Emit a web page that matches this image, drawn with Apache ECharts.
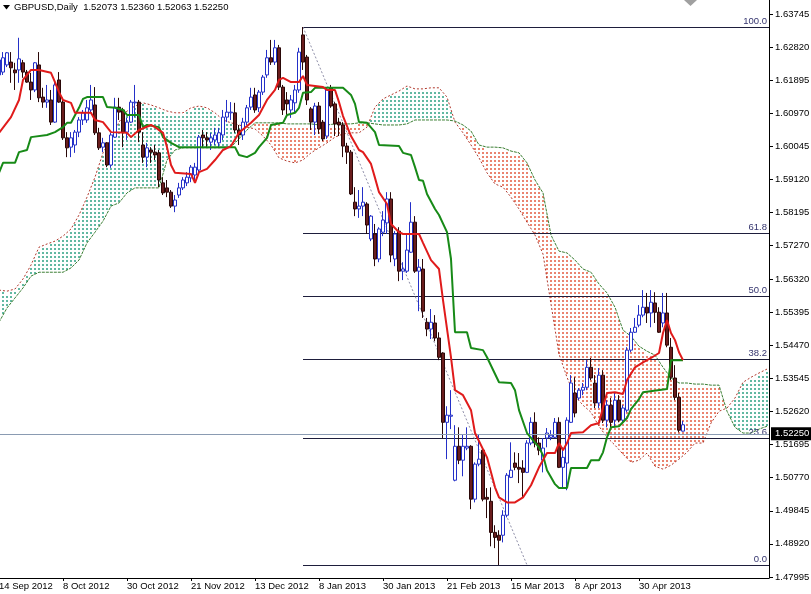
<!DOCTYPE html>
<html><head><meta charset="utf-8">
<script src="https://cdn.jsdelivr.net/npm/echarts@6/dist/echarts.min.js"></script>
<style>html,body{margin:0;padding:0;background:#fff}#c{width:811px;height:594px}</style>
</head><body><div id="c"></div>
<script>
// ---------- DATA ----------
const chartTitle = 'GBPUSD,Daily  1.52073 1.52360 1.52063 1.52250';
const xTickLabels = ['14 Sep 2012','8 Oct 2012','30 Oct 2012','21 Nov 2012','13 Dec 2012','8 Jan 2013','30 Jan 2013','21 Feb 2013','15 Mar 2013','8 Apr 2013','30 Apr 2013'];
const barsPerTick = 16;
const totalSlots = 193; // bars + cloud shifted forward
const priceTicks = [1.47995,1.48920,1.49845,1.50770,1.51695,1.52620,1.53545,1.54470,1.55395,1.56320,1.57270,1.58195,1.59120,1.60045,1.60970,1.61895,1.62820,1.63745];

const opens = [1.6204,1.6212,1.6232,1.6240,1.6218,1.6218,1.6238,1.6212,1.6184,1.6162,
1.6232,1.6142,1.6128,1.6134,1.6072,1.6190,1.6128,1.6028,1.6002,1.6008,
1.6044,1.6078,1.6078,1.6106,1.6120,1.6042,1.6002,1.6014,1.5952,1.6030,
1.6114,1.6106,1.6044,1.6072,1.6126,1.6128,1.6008,1.5974,1.5994,1.5988,
1.5986,1.5902,1.5888,1.5876,1.5837,1.5868,1.5888,1.5902,1.5916,1.5924,
1.5938,1.6036,1.6028,1.6016,1.6022,1.6014,1.6036,1.6086,1.6098,1.6098,
1.6050,1.6036,1.6072,1.6114,1.6148,1.6112,1.6156,1.6204,1.6252,1.6240,
1.6280,1.6170,1.6134,1.6106,1.6126,1.6162,1.6316,1.6254,1.6109,1.6072,
1.6117,1.6072,1.6033,1.6168,1.6123,1.6072,1.6064,1.6005,1.5988,1.5848,
1.5829,1.5837,1.5843,1.5745,1.5759,1.5689,1.5764,1.5790,1.5857,1.5689,
1.5767,1.5655,1.5655,1.5708,1.5792,1.5655,1.5661,1.5512,1.5493,1.5510,
1.5468,1.5426,1.5232,1.5249,1.5070,1.5165,1.5126,1.5160,1.5165,1.5017,
1.5115,1.5154,1.5022,1.5011,1.4924,1.4916,1.4916,1.4972,1.5078,1.5118,
1.5106,1.5104,1.5092,1.5174,1.5232,1.5174,1.5126,1.5188,1.5190,1.5190,
1.5232,1.5106,1.5118,1.5232,1.5314,1.5300,1.5322,1.5330,1.5386,1.5342,
1.5286,1.5364,1.5238,1.5280,1.5238,1.5294,1.5238,1.5266,1.5434,1.5484,
1.5504,1.5532,1.5554,1.5538,1.5566,1.5540,1.5510,1.5538,1.5442,1.5356,
1.5302,1.52073];
const highs = [1.6266,1.6268,1.6268,1.6268,1.6238,1.6308,1.6246,1.6218,1.6210,1.6240,
1.6268,1.6168,1.6176,1.6162,1.6184,1.6212,1.6140,1.6044,1.6044,1.6050,
1.6086,1.6106,1.6134,1.6176,1.6170,1.6056,1.6028,1.6016,1.6042,1.6140,
1.6140,1.6112,1.6084,1.6134,1.6176,1.6134,1.6044,1.6014,1.6002,1.6008,
1.5994,1.5918,1.5910,1.5882,1.5868,1.5902,1.5918,1.5932,1.5952,1.5958,
1.6036,1.6050,1.6044,1.6042,1.6056,1.6056,1.6106,1.6134,1.6128,1.6126,
1.6064,1.6084,1.6120,1.6168,1.6168,1.6162,1.6204,1.6274,1.6302,1.6302,
1.6288,1.6176,1.6156,1.6148,1.6176,1.6280,1.63381,1.6260,1.6114,1.6126,
1.6128,1.6078,1.6170,1.6176,1.6128,1.6084,1.6072,1.6014,1.5994,1.5890,
1.5882,1.5890,1.5848,1.5812,1.5787,1.5778,1.5823,1.5876,1.5876,1.5767,
1.5778,1.5680,1.5759,1.5848,1.5809,1.5689,1.5689,1.5524,1.5549,1.5532,
1.5484,1.5428,1.5277,1.5322,1.5224,1.5218,1.5199,1.5218,1.5168,1.5120,
1.5199,1.5160,1.5048,1.5050,1.4944,1.4930,1.4986,1.5090,1.5176,1.5148,
1.5146,1.5126,1.5182,1.5246,1.5260,1.5190,1.5188,1.5216,1.5210,1.5244,
1.5246,1.5162,1.5246,1.5364,1.5358,1.5328,1.5342,1.5406,1.5412,1.5364,
1.5384,1.5378,1.5294,1.5300,1.5314,1.5308,1.5280,1.5442,1.5496,1.5524,
1.5560,1.5602,1.5594,1.5602,1.5596,1.5554,1.5594,1.5594,1.5468,1.5392,
1.5314,1.52360];
const lows = [1.6156,1.6204,1.6226,1.6182,1.6162,1.6182,1.6196,1.6182,1.6134,1.6156,
1.6128,1.6112,1.6112,1.6064,1.6070,1.6126,1.6022,1.5974,1.5974,1.5986,
1.6030,1.6064,1.6070,1.6100,1.6036,1.5994,1.5988,1.5946,1.5944,1.6028,
1.6078,1.6002,1.6022,1.6070,1.6086,1.6016,1.5958,1.5946,1.5958,1.5966,
1.5890,1.5868,1.5862,1.5832,1.5820,1.5860,1.5882,1.5893,1.5904,1.5910,
1.5932,1.6002,1.6000,1.5994,1.6008,1.6002,1.6022,1.6072,1.6078,1.6042,
1.6008,1.6022,1.6064,1.6106,1.6098,1.6100,1.6148,1.6196,1.6232,1.6232,
1.6162,1.6092,1.6092,1.6084,1.6100,1.6154,1.6218,1.6120,1.6050,1.6036,
1.6039,1.6019,1.6025,1.6112,1.6033,1.6033,1.5974,1.5955,1.5868,1.5809,
1.5804,1.5809,1.5759,1.5739,1.5669,1.5680,1.5753,1.5759,1.5680,1.5669,
1.5627,1.5630,1.5650,1.5706,1.5650,1.5543,1.5524,1.5473,1.5465,1.5459,
1.5406,1.5188,1.5129,1.5213,1.5067,1.5115,1.5081,1.5154,1.4989,1.5008,
1.5109,1.5011,1.4964,1.4885,1.4880,1.48328,1.4896,1.4966,1.5076,1.5098,
1.5062,1.5022,1.5090,1.5168,1.5162,1.5140,1.5092,1.5162,1.5182,1.5188,
1.5104,1.5050,1.5042,1.5230,1.5246,1.5294,1.5308,1.5322,1.5350,1.5272,
1.5272,1.5230,1.5218,1.5218,1.5218,1.5232,1.5232,1.5260,1.5428,1.5482,
1.5498,1.5526,1.5510,1.5498,1.5510,1.5482,1.5498,1.5442,1.5350,1.5294,
1.5204,1.52063];
const closes = [1.6246,1.6252,1.6266,1.6224,1.6210,1.6249,1.6212,1.6184,1.6162,1.6238,
1.6140,1.6128,1.6134,1.6072,1.6176,1.6128,1.6028,1.6000,1.6028,1.6044,
1.6078,1.6098,1.6112,1.6134,1.6042,1.6000,1.6014,1.5952,1.6036,1.6114,
1.6100,1.6044,1.6072,1.6128,1.6128,1.6044,1.5974,1.6000,1.5988,1.5980,
1.5910,1.5874,1.5876,1.5837,1.5854,1.5888,1.5910,1.5918,1.5946,1.5946,
1.6030,1.6028,1.6022,1.6028,1.6036,1.6042,1.6086,1.6100,1.6100,1.6050,
1.6036,1.6072,1.6112,1.6142,1.6106,1.6156,1.6198,1.6252,1.6240,1.6280,
1.6170,1.6106,1.6123,1.6134,1.6162,1.6268,1.6240,1.6134,1.6072,1.6117,
1.6053,1.6025,1.6162,1.6117,1.6067,1.6064,1.6005,1.5988,1.5871,1.5829,
1.5837,1.5848,1.5784,1.5809,1.5689,1.5773,1.5798,1.5857,1.5700,1.5759,
1.5655,1.5661,1.5714,1.5792,1.5655,1.5666,1.5543,1.5493,1.5512,1.5468,
1.5414,1.5232,1.5252,1.5252,1.5165,1.5126,1.5165,1.5165,1.5017,1.5115,
1.5129,1.5017,1.5017,1.4924,1.4910,1.4902,1.4972,1.5084,1.5098,1.5106,
1.5101,1.5092,1.5174,1.5232,1.5174,1.5154,1.5160,1.5202,1.5196,1.5232,
1.5106,1.5134,1.5238,1.5342,1.5258,1.5322,1.5330,1.5386,1.5356,1.5286,
1.5364,1.5238,1.5280,1.5232,1.5294,1.5238,1.5272,1.5434,1.5484,1.5498,
1.5532,1.5554,1.5538,1.5568,1.5540,1.5484,1.5538,1.5448,1.5358,1.5302,
1.5210,1.52250];

// Tenkan-sen (red) and Kijun-sen (green): [bar index, price]
const tenkan = [[0,1.6042],[3,1.6086],[5,1.6134],[6,1.6190],[8,1.6218],[10,1.6218],[13,1.6210],[14,1.6184],[15,1.6156],[16,1.6134],[18,1.6126],[19,1.6098],[23,1.6098],[24,1.6078],[26,1.6072],[28,1.6044],[32,1.6042],[33,1.6030],[35,1.6050],[38,1.6064],[39,1.6058],[41,1.6042],[42,1.6002],[43,1.5952],[44,1.5930],[48,1.5927],[49,1.5902],[50,1.5932],[52,1.5941],[54,1.5966],[56,1.5994],[58,1.6005],[60,1.6042],[63,1.6070],[65,1.6092],[67,1.6134],[69,1.6162],[70,1.6190],[71,1.6196],[73,1.6184],[75,1.6184],[76,1.6201],[77,1.6176],[81,1.6170],[82,1.6162],[84,1.6162],[85,1.6128],[86,1.6089],[88,1.6033],[90,1.5994],[91,1.5988],[93,1.5955],[94,1.5916],[95,1.5876],[97,1.5843],[98,1.5787],[100,1.5764],[101,1.5759],[105,1.5759],[106,1.5734],[108,1.5686],[110,1.5661],[111,1.5574],[113,1.5414],[114,1.5322],[116,1.5308],[118,1.5266],[119,1.5202],[122,1.5134],[124,1.5050],[125,1.5022],[127,1.5008],[129,1.5008],[131,1.5022],[133,1.5056],[135,1.5106],[137,1.5146],[139,1.5146],[140,1.5174],[141,1.5154],[142,1.5174],[143,1.5202],[146,1.5204],[148,1.5224],[150,1.5230],[151,1.5274],[152,1.5314],[154,1.5316],[156,1.5311],[157,1.5350],[159,1.5386],[161,1.5400],[163,1.5412],[165,1.5426],[166,1.5482],[167,1.5518],[168,1.5482],[169,1.5462],[170,1.5428],[171,1.5406]];
const kijun = [[0,1.5930],[1,1.5958],[4,1.5958],[5,1.5988],[7,1.5994],[8,1.6030],[12,1.6036],[14,1.6044],[16,1.6058],[17,1.6070],[18,1.6070],[20,1.6112],[21,1.6137],[22,1.6142],[26,1.6142],[27,1.6114],[29,1.6112],[31,1.6106],[32,1.6092],[35,1.6092],[36,1.6058],[37,1.6064],[40,1.6058],[41,1.6030],[43,1.6014],[45,1.6002],[59,1.6002],[60,1.5980],[62,1.5974],[64,1.5986],[65,1.6002],[67,1.6028],[68,1.6064],[71,1.6070],[72,1.6092],[74,1.6098],[75,1.6112],[76,1.6154],[78,1.6156],[79,1.6168],[86,1.6168],[88,1.6148],[89,1.6123],[90,1.6072],[92,1.6070],[94,1.6044],[95,1.6008],[100,1.6005],[101,1.5986],[103,1.5980],[104,1.5946],[105,1.5910],[106,1.5908],[107,1.5871],[109,1.5829],[110,1.5812],[112,1.5764],[113,1.5689],[114,1.5484],[117,1.5484],[118,1.5440],[121,1.5434],[122,1.5414],[125,1.5344],[128,1.5342],[129,1.5322],[130,1.5266],[132,1.5202],[135,1.5162],[136,1.5140],[137,1.5098],[139,1.5059],[140,1.5048],[142,1.5048],[143,1.5104],[147,1.5104],[148,1.5126],[150,1.5126],[151,1.5148],[152,1.5190],[153,1.5218],[155,1.5221],[157,1.5244],[158,1.5269],[160,1.5297],[161,1.5316],[167,1.5325],[168,1.5406],[171,1.5406]];

// Senkou span A / B sampled every second bar slot
const cloudIdx = [0,2,4,6,8,10,12,14,16,18,20,22,24,26,28,30,32,34,36,38,40,42,44,46,48,50,52,54,56,58,60,62,64,66,68,70,72,74,76,78,80,82,84,86,88,90,92,94,96,98,100,102,104,106,108,110,112,114,116,118,120,122,124,126,128,130,132,134,136,138,140,142,144,146,148,150,152,154,156,158,160,162,164,166,168,170,172,174,176,178,180,182,184,186,188,190,192];
const spanA = [1.5602,1.5599,1.5605,1.5633,1.5672,1.5722,1.5731,1.5739,1.5753,1.5773,
1.5812,1.5862,1.5918,1.5986,1.6025,1.6072,1.6103,1.6117,1.6126,1.6120,
1.6112,1.6103,1.6098,1.6098,1.6112,1.6117,1.6112,1.6098,1.6078,1.6070,
1.6064,1.6058,1.6053,1.6033,1.6008,1.5972,1.5963,1.5958,1.5966,1.5986,
1.6000,1.6014,1.6030,1.6039,1.6042,1.6042,1.6058,1.6114,1.6137,1.6148,
1.6159,1.6173,1.6165,1.6165,1.6168,1.6168,1.6142,1.6072,1.6042,1.6008,
1.5972,1.5930,1.5899,1.5890,1.5862,1.5829,1.5792,1.5756,1.5703,1.5563,
1.5423,1.5358,1.5305,1.5280,1.5260,1.5221,1.5190,1.5168,1.5143,1.5120,
1.5126,1.5146,1.5109,1.5101,1.5112,1.5129,1.5148,1.5174,1.5174,1.5230,
1.5263,1.5272,1.5300,1.5344,1.5358,1.5370,1.5381];
const spanB = [1.5512,1.5552,1.5580,1.5608,1.5641,1.5652,1.5652,1.5652,1.5652,1.5664,
1.5686,1.5734,1.5764,1.5795,1.5837,1.5846,1.5874,1.5888,1.5888,1.5888,
1.5888,1.5966,1.5994,1.6000,1.6000,1.6000,1.6000,1.6000,1.6000,1.6002,
1.6025,1.6050,1.6070,1.6070,1.6070,1.6070,1.6067,1.6067,1.6067,1.6067,
1.6064,1.6064,1.6067,1.6067,1.6067,1.6070,1.6070,1.6067,1.6064,1.6064,
1.6064,1.6067,1.6078,1.6078,1.6078,1.6078,1.6078,1.6075,1.6064,1.6047,
1.6008,1.6002,1.6002,1.6000,1.5991,1.5986,1.5958,1.5910,1.5874,1.5756,
1.5711,1.5706,1.5686,1.5661,1.5652,1.5619,1.5594,1.5554,1.5490,1.5473,
1.5445,1.5431,1.5420,1.5386,1.5356,1.5342,1.5342,1.5339,1.5339,1.5336,
1.5336,1.5263,1.5218,1.5202,1.5202,1.5213,1.5221];

// Fibonacci retracement
const fibLabels = ['100.0','61.8','50.0','38.2','23.6','0.0'];
const fibPrices = [1.63381,1.57631,1.55855,1.54078,1.51881,1.48328];
const fibStartBar = 76;
const fibTrend = [[76,1.63381],[132,1.48328]];
const lastPrice = 1.52250;

// ---------- CHART ----------
const FONT = 'Liberation Sans, Arial, sans-serif';
const HATCH_RED = '#ea8470';
const HATCH_GREEN = '#62b8a2';
const categories = Array.from({length: totalSlots}, (_, i) => String(i));
const candleData = opens.map((o, i) => [o, closes[i], lows[i], highs[i]]);
const isTickBar = (i) => i % barsPerTick === 0 && (i / barsPerTick) < xTickLabels.length;

const cloudSegs = [];
for (let k = 0; k < cloudIdx.length - 1; k++) {
  cloudSegs.push([cloudIdx[k], spanA[k], spanB[k], cloudIdx[k+1], spanA[k+1], spanB[k+1], k === cloudIdx.length - 2 ? 1 : 0]);
}

// Dotted vertical hatch inside the cloud polygon, one column per bar slot
function renderCloud(params, api) {
  const x0 = api.value(0), a0 = api.value(1), b0 = api.value(2);
  const x1 = api.value(3), a1 = api.value(4), b1 = api.value(5);
  const A0 = api.coord([x0, a0]), B0 = api.coord([x0, b0]);
  const A1 = api.coord([x1, a1]), B1 = api.coord([x1, b1]);
  const kids = [];
  const last = api.value(6) === 1;
  for (let s = x0; s < x1 || (last && s === x1); s++) {
    const px = api.coord([s, a0])[0];
    const t = (px - A0[0]) / (A1[0] - A0[0]);
    const ya = A0[1] + (A1[1] - A0[1]) * t;
    const yb = B0[1] + (B1[1] - B0[1]) * t;
    const top = Math.min(ya, yb), bot = Math.max(ya, yb);
    const col = ya < yb ? HATCH_GREEN : HATCH_RED; // span A above span B -> bullish cloud
    const x = Math.round(px) - 1;
    let y = Math.ceil((top + 1) / 4) * 4;
    for (; y + 2 <= bot; y += 4) {
      kids.push({type: 'rect', shape: {x: x, y: y, width: 2, height: 2}, style: {fill: col}});
    }
  }
  return {type: 'group', children: kids};
}

const fibData = fibPrices.map((p, i) => [fibStartBar, p, i]);
function renderFib(params, api) {
  const p = api.coord([api.value(0), api.value(1)]);
  const right = params.coordSys.x + params.coordSys.width;
  const y = Math.round(p[1]) + 0.5;
  return {type: 'group', children: [
    {type: 'line', shape: {x1: p[0], y1: y, x2: right, y2: y}, style: {stroke: '#1e1e3c', lineWidth: 1}},
    {type: 'text', style: {text: fibLabels[api.value(2)], x: right - 2, y: y - 1, align: 'right', verticalAlign: 'bottom', fill: '#34346e', font: '9.5px ' + FONT}}
  ]};
}

const chart = echarts.init(document.getElementById('c'), null, {renderer: 'canvas'});
chart.setOption({
  animation: false,
  backgroundColor: '#ffffff',
  title: {text: chartTitle, left: 14, top: 2, padding: 0,
    textStyle: {fontSize: 9.5, fontWeight: 'normal', color: '#000', fontFamily: FONT}},
  graphic: [
    {type: 'polygon', shape: {points: [[3, 5], [10, 5], [6.5, 9.5]]}, style: {fill: '#000'}},
    {type: 'polygon', shape: {points: [[684, 0], [697, 0], [690.5, 6]]}, style: {fill: '#a0a0a0'}}
  ],
  grid: {left: -3, top: 0, right: 42, bottom: 16, containLabel: false, outerBoundsMode: 'none'},
  xAxis: {
    type: 'category', data: categories, boundaryGap: true,
    axisLine: {onZero: false, lineStyle: {color: '#000', width: 1}},
    axisTick: {show: true, alignWithLabel: true, interval: (i) => isTickBar(i), length: 3, lineStyle: {color: '#000'}},
    axisLabel: {interval: (i) => isTickBar(i), formatter: (v) => { const n = Number(v); return isTickBar(n) ? xTickLabels[n / barsPerTick] : ''; },
      align: 'left', margin: 3, fontSize: 9.5, color: '#000', fontFamily: FONT},
    splitLine: {show: false}
  },
  yAxis: {
    type: 'value', position: 'right', min: 1.47964, max: 1.64137, scale: true,
    axisLine: {show: true, onZero: false, lineStyle: {color: '#000', width: 1}},
    axisTick: {show: true, customValues: priceTicks, length: 4, lineStyle: {color: '#000'}},
    axisLabel: {show: true, customValues: priceTicks, formatter: (v) => v.toFixed(5), margin: 6, fontSize: 9.5, color: '#000', fontFamily: FONT},
    splitLine: {show: false}
  },
  series: [
    {type: 'custom', name: 'cloud', renderItem: renderCloud, data: cloudSegs, z: 1, silent: true,
      encode: {x: [0, 3], y: [1, 2, 4, 5]}},
    {type: 'line', name: 'Senkou A', data: cloudIdx.map((x, k) => [x, spanA[k]]), symbol: 'none', z: 2, silent: true,
      lineStyle: {color: '#b0382c', width: 1, type: [2, 2]}},
    {type: 'line', name: 'Senkou B', data: cloudIdx.map((x, k) => [x, spanB[k]]), symbol: 'none', z: 2, silent: true,
      lineStyle: {color: '#3c7f34', width: 1, type: [3, 1]}},
    {type: 'line', name: 'fibTrend', data: fibTrend, symbol: 'none', z: 3, silent: true,
      lineStyle: {color: '#8e8ea8', width: 1, type: [2, 2]}},
    {type: 'custom', name: 'fib', renderItem: renderFib, data: fibData, z: 3, silent: true, encode: {x: 0, y: 1}},
    {type: 'candlestick', name: 'GBPUSD', data: candleData, barWidth: 3, z: 4,
      itemStyle: {color: '#ffffff', color0: '#6a1d1d', borderColor: '#2430c8', borderColor0: '#2a0808', borderWidth: 1},
      markLine: {silent: true, symbol: 'none', animation: false,
        lineStyle: {color: '#8a9bb2', width: 1, type: 'solid'},
        label: {show: true, position: 'end', distance: 2, formatter: lastPrice.toFixed(5), backgroundColor: '#000', color: '#fff',
          padding: [2, 4, 1, 4], fontSize: 9.5, fontFamily: FONT},
        data: [{yAxis: lastPrice}]}},
    {type: 'line', name: 'Kijun', data: kijun, symbol: 'none', z: 5, silent: true,
      lineStyle: {color: '#178a17', width: 2}},
    {type: 'line', name: 'Tenkan', data: tenkan, symbol: 'none', z: 6, silent: true,
      lineStyle: {color: '#e01b1b', width: 2}}
  ]
});
</script>
</body></html>
